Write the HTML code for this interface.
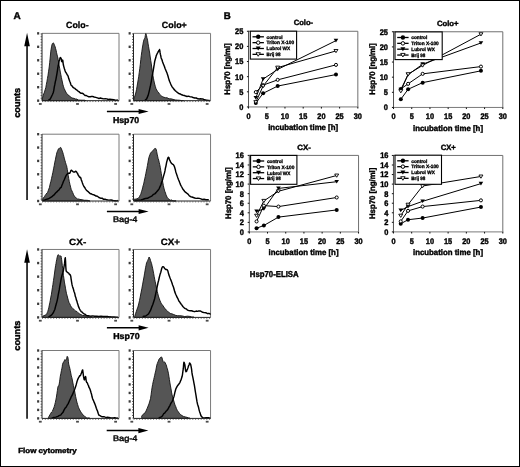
<!DOCTYPE html>
<html><head><meta charset="utf-8"><style>
html,body{margin:0;padding:0;background:#fff;width:520px;height:467px;overflow:hidden;}
body{position:relative;font-family:"Liberation Sans", sans-serif;}
#wrap{position:absolute;left:0;top:0;width:520px;height:467px;filter:grayscale(1);}
#fig{position:absolute;left:0;top:0;font-family:"Liberation Sans", sans-serif;}
#fig text{text-rendering:geometricPrecision;stroke:#000;stroke-width:0.4px;paint-order:stroke;}
</style></head><body><div id="wrap">
<svg width="520" height="467" viewBox="0 0 520 467" id="fig">
<rect x="0" y="0" width="520" height="467" fill="#fff"/>
<text x="13.5" y="19.2" font-size="10" font-weight="bold" text-anchor="start" fill="#000">A</text>
<text x="66" y="27.7" font-size="9" font-weight="bold" text-anchor="start" fill="#000" textLength="22.6" lengthAdjust="spacingAndGlyphs" style="stroke-width:0.3px">Colo-</text>
<text x="161.8" y="27.7" font-size="9" font-weight="bold" text-anchor="start" fill="#000" textLength="25.0" lengthAdjust="spacingAndGlyphs" style="stroke-width:0.3px">Colo+</text>
<text x="69.1" y="244.9" font-size="9" font-weight="bold" text-anchor="start" fill="#000" textLength="17.1" lengthAdjust="spacingAndGlyphs" style="stroke-width:0.3px">CX-</text>
<text x="160.8" y="244.9" font-size="9.2" font-weight="bold" text-anchor="start" fill="#000" textLength="19.2" lengthAdjust="spacingAndGlyphs" style="stroke-width:0.3px">CX+</text>
<path d="M42.0,33.35 H119.0 V100.66" fill="none" stroke="#7a7a7a" stroke-width="1"/>
<path d="M42.50,100.32 L42.46,99.93 L42.41,98.94 L42.50,98.07 L42.80,96.92 L43.23,95.21 L43.70,93.76 L44.20,92.95 L44.75,91.06 L45.30,89.21 L45.83,87.41 L46.37,84.35 L46.90,81.74 L47.45,78.44 L48.00,75.32 L48.50,71.76 L48.93,68.98 L49.32,66.04 L49.70,62.52 L50.07,58.94 L50.44,54.99 L50.80,51.19 L51.16,49.09 L51.52,46.90 L51.90,45.06 L52.33,43.63 L52.77,43.42 L53.20,42.78 L53.57,43.10 L53.93,43.81 L54.30,44.55 L54.71,45.77 L55.14,46.73 L55.60,48.61 L56.08,50.24 L56.59,52.71 L57.10,54.97 L57.63,56.84 L58.16,59.46 L58.70,62.30 L59.23,65.93 L59.77,68.84 L60.30,72.09 L60.84,74.67 L61.37,77.45 L61.90,79.82 L62.37,82.04 L62.84,84.28 L63.40,86.26 L64.13,88.46 L64.97,90.19 L65.80,92.00 L66.57,93.22 L67.35,94.33 L68.20,95.02 L69.15,95.52 L70.17,96.77 L71.30,97.53 L72.54,98.08 L73.88,98.36 L75.30,98.95 L76.77,99.08 L78.31,99.97 L80.00,100.15 L82.13,100.19 L84.40,100.19 L86.00,100.66 L86.00,100.66 L42.50,100.66 Z" fill="#555555" stroke="#111" stroke-width="0.9" stroke-linejoin="round"/>
<path d="M48.50,100.66 L49.09,99.70 L49.94,99.42 L50.80,97.93 L51.62,96.19 L52.46,94.45 L53.20,92.72 L53.79,90.34 L54.30,86.96 L54.80,84.69 L55.34,81.66 L55.87,79.62 L56.40,76.56 L56.91,73.87 L57.42,70.64 L57.90,67.30 L58.36,65.25 L58.79,62.60 L59.20,60.66 L59.59,59.64 L59.96,58.08 L60.30,57.56 L60.59,57.61 L60.84,58.10 L61.10,58.32 L61.37,59.30 L61.63,61.29 L61.90,61.65 L62.17,61.76 L62.44,60.76 L62.70,60.10 L62.91,61.24 L63.10,63.06 L63.40,65.02 L63.87,66.84 L64.43,68.75 L65.00,70.50 L65.53,71.99 L66.07,72.63 L66.60,73.54 L67.13,74.75 L67.67,75.33 L68.20,76.54 L68.74,78.59 L69.27,79.92 L69.80,81.54 L70.27,82.53 L70.74,84.18 L71.30,85.46 L72.00,85.93 L72.81,87.16 L73.70,87.91 L74.71,88.22 L75.81,89.43 L76.90,90.07 L77.94,91.07 L78.96,91.64 L80.00,92.67 L81.06,93.28 L82.14,93.21 L83.20,93.75 L84.24,94.79 L85.26,95.57 L86.30,95.50 L87.36,96.15 L88.44,96.71 L89.50,96.76 L90.48,96.71 L91.44,96.40 L92.60,96.40 L94.08,96.97 L95.74,97.34 L97.40,97.90 L98.97,98.45 L100.54,97.98 L102.10,98.56 L103.66,98.88 L105.23,98.75 L106.80,98.88 L108.34,99.51 L109.89,99.21 L111.60,99.35 L113.82,99.82 L116.21,100.34 L117.90,100.08" fill="none" stroke="#000" stroke-width="1.45" stroke-linejoin="round"/>
<path d="M42.0,33.35 V100.66 H119.0" fill="none" stroke="#222" stroke-width="1"/>
<line x1="41.2" y1="33.35" x2="41.2" y2="100.66" stroke="#333" stroke-width="0.9" stroke-dasharray="1.1 1.7"/>
<rect x="37.1" y="32.15" width="2.1" height="2.4" fill="#3a3a3a"/>
<rect x="37.1" y="45.611999999999995" width="2.1" height="2.4" fill="#3a3a3a"/>
<rect x="37.1" y="59.074" width="2.1" height="2.4" fill="#3a3a3a"/>
<rect x="37.1" y="72.536" width="2.1" height="2.4" fill="#3a3a3a"/>
<rect x="37.1" y="85.998" width="2.1" height="2.4" fill="#3a3a3a"/>
<rect x="37.1" y="99.46" width="2.1" height="2.4" fill="#3a3a3a"/>
<line x1="42.0" y1="101.56" x2="119.0" y2="101.56" stroke="#444" stroke-width="0.8" stroke-dasharray="1.0 1.8"/>
<rect x="38.906" y="103.06" width="2.8" height="1.8" fill="#4a4a4a"/>
<rect x="76.097" y="103.06" width="2.8" height="1.8" fill="#4a4a4a"/>
<rect x="114.21199999999999" y="103.06" width="2.8" height="1.8" fill="#4a4a4a"/>
<path d="M133.5,33.35 H210.55 V100.66" fill="none" stroke="#7a7a7a" stroke-width="1"/>
<path d="M133.90,100.48 L133.84,100.12 L133.78,99.91 L133.90,98.76 L134.31,97.82 L134.91,95.78 L135.50,93.99 L136.03,91.87 L136.57,89.34 L137.10,86.17 L137.63,83.07 L138.17,79.89 L138.70,76.72 L139.24,72.51 L139.77,68.63 L140.30,64.34 L140.80,59.56 L141.30,55.32 L141.80,51.72 L142.33,48.03 L142.86,44.91 L143.40,41.89 L143.96,39.78 L144.53,38.47 L145.00,37.51 L145.31,35.56 L145.54,34.14 L145.80,33.54 L146.14,34.13 L146.51,35.54 L146.90,37.59 L147.28,38.85 L147.67,40.82 L148.10,43.91 L148.60,46.74 L149.15,50.04 L149.70,53.05 L150.23,56.97 L150.77,60.67 L151.30,63.91 L151.84,68.08 L152.37,71.97 L152.90,75.31 L153.40,78.17 L153.90,80.62 L154.40,82.99 L154.90,84.98 L155.40,86.67 L156.00,88.66 L156.71,89.90 L157.52,91.53 L158.40,92.18 L159.35,93.95 L160.37,94.89 L161.50,96.00 L162.71,96.72 L164.02,97.32 L165.50,97.65 L167.19,97.81 L169.05,98.82 L171.00,98.87 L173.04,99.35 L175.17,99.94 L177.30,100.12 L179.63,100.26 L181.97,100.66 L183.60,100.66 L183.60,100.66 L133.90,100.66 Z" fill="#555555" stroke="#111" stroke-width="0.9" stroke-linejoin="round"/>
<path d="M145.00,100.47 L145.63,99.68 L146.52,99.07 L147.40,97.18 L148.17,95.33 L148.93,92.41 L149.70,89.16 L150.52,85.44 L151.36,81.12 L152.10,76.44 L152.70,73.50 L153.20,70.54 L153.70,67.54 L154.20,64.70 L154.70,61.35 L155.20,59.50 L155.73,57.83 L156.26,55.68 L156.80,54.52 L157.35,53.28 L157.90,52.41 L158.40,51.44 L158.81,50.59 L159.17,50.12 L159.50,49.50 L159.81,50.70 L160.09,52.63 L160.40,54.40 L160.73,55.69 L161.09,57.65 L161.50,58.88 L161.99,59.77 L162.53,61.70 L163.10,63.15 L163.70,64.72 L164.34,66.33 L165.00,68.22 L165.71,69.98 L166.44,71.69 L167.10,73.35 L167.64,75.09 L168.11,76.45 L168.60,78.34 L169.13,80.13 L169.66,81.53 L170.20,82.76 L170.70,84.00 L171.21,85.12 L171.80,86.28 L172.51,87.49 L173.32,88.24 L174.20,89.64 L175.18,90.59 L176.23,91.53 L177.30,92.40 L178.33,93.14 L179.38,93.78 L180.50,94.04 L181.74,94.82 L183.07,95.19 L184.40,95.50 L185.70,96.06 L187.01,96.43 L188.40,96.16 L189.91,96.66 L191.51,96.87 L193.10,97.50 L194.69,97.96 L196.29,98.00 L197.80,98.82 L199.19,98.98 L200.50,98.73 L201.80,99.07 L203.10,99.03 L204.40,99.82 L205.70,99.93 L207.17,100.34 L208.66,100.48 L209.70,100.53" fill="none" stroke="#000" stroke-width="1.45" stroke-linejoin="round"/>
<path d="M133.5,33.35 V100.66 H210.55" fill="none" stroke="#222" stroke-width="1"/>
<line x1="132.7" y1="33.35" x2="132.7" y2="100.66" stroke="#333" stroke-width="0.9" stroke-dasharray="1.1 1.7"/>
<rect x="128.6" y="32.15" width="2.1" height="2.4" fill="#3a3a3a"/>
<rect x="128.6" y="45.611999999999995" width="2.1" height="2.4" fill="#3a3a3a"/>
<rect x="128.6" y="59.074" width="2.1" height="2.4" fill="#3a3a3a"/>
<rect x="128.6" y="72.536" width="2.1" height="2.4" fill="#3a3a3a"/>
<rect x="128.6" y="85.998" width="2.1" height="2.4" fill="#3a3a3a"/>
<rect x="128.6" y="99.46" width="2.1" height="2.4" fill="#3a3a3a"/>
<line x1="133.5" y1="101.56" x2="210.55" y2="101.56" stroke="#444" stroke-width="0.8" stroke-dasharray="1.0 1.8"/>
<rect x="130.4049" y="103.06" width="2.8" height="1.8" fill="#4a4a4a"/>
<rect x="167.62005" y="103.06" width="2.8" height="1.8" fill="#4a4a4a"/>
<rect x="205.7598" y="103.06" width="2.8" height="1.8" fill="#4a4a4a"/>
<path d="M42.0,134.2 H119.0 V201.0" fill="none" stroke="#7a7a7a" stroke-width="1"/>
<path d="M42.50,201.00 L42.43,200.67 L42.35,199.94 L42.50,199.66 L43.00,198.36 L43.73,197.36 L44.50,196.69 L45.29,195.15 L46.12,194.14 L46.90,193.02 L47.57,192.47 L48.18,190.80 L48.80,189.07 L49.46,187.36 L50.12,184.13 L50.80,181.74 L51.50,178.57 L52.21,175.46 L52.90,172.32 L53.56,168.83 L54.20,165.75 L54.80,162.18 L55.36,159.85 L55.89,157.02 L56.40,154.85 L56.90,152.48 L57.40,151.32 L57.90,150.20 L58.44,148.82 L59.00,148.60 L59.50,148.44 L59.90,148.20 L60.24,147.43 L60.60,147.38 L61.01,147.87 L61.44,148.91 L61.90,150.08 L62.38,151.18 L62.89,152.80 L63.40,154.63 L63.93,156.64 L64.46,158.91 L65.00,160.71 L65.55,162.63 L66.10,164.41 L66.60,165.64 L66.99,167.74 L67.31,169.37 L67.70,172.13 L68.18,175.17 L68.72,178.46 L69.30,181.51 L69.93,184.36 L70.61,187.16 L71.30,189.68 L71.97,190.99 L72.65,192.43 L73.40,194.27 L74.21,195.84 L75.09,196.91 L76.10,197.96 L77.22,198.89 L78.48,198.99 L80.00,199.44 L82.02,199.73 L84.30,200.25 L86.30,200.27 L87.86,200.42 L89.14,200.92 L90.00,201.00 L90.00,201.0 L42.50,201.0 Z" fill="#555555" stroke="#111" stroke-width="0.9" stroke-linejoin="round"/>
<path d="M42.90,200.44 L44.18,200.29 L45.99,199.38 L47.70,199.08 L49.09,198.38 L50.39,197.65 L51.60,196.97 L52.72,195.90 L53.77,195.18 L54.80,194.01 L55.84,192.80 L56.86,191.91 L57.90,190.76 L58.99,189.93 L60.10,188.16 L61.10,187.39 L61.94,185.24 L62.68,183.42 L63.40,181.47 L64.12,180.05 L64.82,178.41 L65.50,176.75 L66.13,175.44 L66.74,174.58 L67.40,173.89 L68.20,173.14 L69.05,173.29 L69.80,173.17 L70.36,171.97 L70.83,170.81 L71.30,170.19 L71.83,170.59 L72.36,170.93 L72.90,171.57 L73.43,171.91 L73.97,171.88 L74.50,172.05 L75.04,171.77 L75.57,171.14 L76.10,171.36 L76.60,172.00 L77.10,172.94 L77.60,173.40 L78.13,174.93 L78.66,175.60 L79.20,176.64 L79.73,177.41 L80.27,177.26 L80.80,177.97 L81.31,179.90 L81.81,181.14 L82.40,182.89 L83.11,184.72 L83.90,186.46 L84.70,187.41 L85.46,188.85 L86.24,189.93 L87.10,190.89 L88.11,191.55 L89.21,192.65 L90.30,193.66 L91.31,193.81 L92.30,194.43 L93.40,194.60 L94.64,195.24 L95.98,196.07 L97.40,196.19 L98.91,197.48 L100.51,198.21 L102.10,198.18 L103.61,199.30 L105.11,199.19 L106.80,199.82 L108.84,200.11 L111.05,200.02 L113.10,200.54 L114.99,200.67 L116.71,200.89 L117.90,200.51" fill="none" stroke="#000" stroke-width="1.45" stroke-linejoin="round"/>
<path d="M42.0,134.2 V201.0 H119.0" fill="none" stroke="#222" stroke-width="1"/>
<line x1="41.2" y1="134.2" x2="41.2" y2="201.0" stroke="#333" stroke-width="0.9" stroke-dasharray="1.1 1.7"/>
<rect x="37.1" y="133.0" width="2.1" height="2.4" fill="#3a3a3a"/>
<rect x="37.1" y="146.36" width="2.1" height="2.4" fill="#3a3a3a"/>
<rect x="37.1" y="159.72" width="2.1" height="2.4" fill="#3a3a3a"/>
<rect x="37.1" y="173.08" width="2.1" height="2.4" fill="#3a3a3a"/>
<rect x="37.1" y="186.44" width="2.1" height="2.4" fill="#3a3a3a"/>
<rect x="37.1" y="199.8" width="2.1" height="2.4" fill="#3a3a3a"/>
<line x1="42.0" y1="201.9" x2="119.0" y2="201.9" stroke="#444" stroke-width="0.8" stroke-dasharray="1.0 1.8"/>
<rect x="38.906" y="203.4" width="2.8" height="1.8" fill="#4a4a4a"/>
<rect x="76.097" y="203.4" width="2.8" height="1.8" fill="#4a4a4a"/>
<rect x="114.21199999999999" y="203.4" width="2.8" height="1.8" fill="#4a4a4a"/>
<path d="M133.5,134.2 H210.55 V201.0" fill="none" stroke="#7a7a7a" stroke-width="1"/>
<path d="M133.90,201.00 L133.78,200.87 L133.66,200.17 L133.90,199.63 L134.76,199.08 L135.97,199.15 L137.10,198.70 L137.99,198.33 L138.80,197.51 L139.50,196.55 L140.06,195.36 L140.53,194.67 L141.00,193.39 L141.53,191.44 L142.06,190.05 L142.60,187.91 L143.13,185.55 L143.67,184.05 L144.20,181.25 L144.73,178.87 L145.27,176.45 L145.80,173.67 L146.34,171.01 L146.87,168.44 L147.40,165.67 L147.90,162.82 L148.40,159.97 L148.90,157.50 L149.43,156.03 L149.96,154.50 L150.50,153.13 L151.03,152.50 L151.57,151.82 L152.10,151.34 L152.64,150.88 L153.17,150.69 L153.70,149.58 L154.22,149.28 L154.73,148.50 L155.20,148.59 L155.59,148.40 L155.93,148.82 L156.30,149.83 L156.71,151.67 L157.14,154.11 L157.60,156.10 L158.11,158.48 L158.66,160.01 L159.20,162.34 L159.74,164.68 L160.27,167.32 L160.80,170.60 L161.30,173.67 L161.80,176.57 L162.30,179.68 L162.83,182.68 L163.36,185.57 L163.90,188.02 L164.43,190.04 L164.97,191.74 L165.50,193.05 L166.01,194.70 L166.51,195.86 L167.10,197.22 L167.78,198.22 L168.54,198.77 L169.40,199.43 L170.39,200.19 L171.49,199.89 L172.60,200.61 L173.84,200.88 L175.11,201.00 L176.00,200.82 L176.00,201.0 L133.90,201.0 Z" fill="#555555" stroke="#111" stroke-width="0.9" stroke-linejoin="round"/>
<path d="M134.70,200.64 L136.33,200.43 L138.66,200.12 L141.00,199.98 L143.19,199.29 L145.39,198.45 L147.40,198.29 L149.12,197.31 L150.66,196.64 L152.10,195.88 L153.49,194.33 L154.78,193.87 L156.00,192.63 L157.15,191.31 L158.23,190.07 L159.20,188.57 L160.05,186.64 L160.80,185.01 L161.50,182.63 L162.17,180.95 L162.80,178.94 L163.40,176.66 L163.97,174.65 L164.50,172.87 L165.00,170.71 L165.46,167.95 L165.89,166.32 L166.30,164.20 L166.71,161.97 L167.11,160.62 L167.50,159.19 L167.87,157.88 L168.24,157.33 L168.60,157.34 L168.96,157.54 L169.32,159.29 L169.70,160.36 L170.11,160.77 L170.54,162.11 L171.00,162.58 L171.51,163.43 L172.06,163.77 L172.60,164.29 L173.14,164.36 L173.67,165.12 L174.20,166.05 L174.70,167.53 L175.20,169.17 L175.70,171.41 L176.21,173.05 L176.74,174.61 L177.30,176.33 L177.90,178.02 L178.54,179.69 L179.20,181.23 L179.88,183.10 L180.58,184.86 L181.30,186.23 L182.02,187.52 L182.76,189.00 L183.60,189.94 L184.57,191.19 L185.65,192.46 L186.80,193.22 L188.04,194.17 L189.37,195.88 L190.70,196.68 L192.00,197.05 L193.31,197.51 L194.70,198.02 L196.21,198.40 L197.81,198.34 L199.40,198.40 L200.96,198.84 L202.53,199.58 L204.10,199.31 L205.87,199.78 L207.65,199.74 L208.90,199.87" fill="none" stroke="#000" stroke-width="1.45" stroke-linejoin="round"/>
<path d="M133.5,134.2 V201.0 H210.55" fill="none" stroke="#222" stroke-width="1"/>
<line x1="132.7" y1="134.2" x2="132.7" y2="201.0" stroke="#333" stroke-width="0.9" stroke-dasharray="1.1 1.7"/>
<rect x="128.6" y="133.0" width="2.1" height="2.4" fill="#3a3a3a"/>
<rect x="128.6" y="146.36" width="2.1" height="2.4" fill="#3a3a3a"/>
<rect x="128.6" y="159.72" width="2.1" height="2.4" fill="#3a3a3a"/>
<rect x="128.6" y="173.08" width="2.1" height="2.4" fill="#3a3a3a"/>
<rect x="128.6" y="186.44" width="2.1" height="2.4" fill="#3a3a3a"/>
<rect x="128.6" y="199.8" width="2.1" height="2.4" fill="#3a3a3a"/>
<line x1="133.5" y1="201.9" x2="210.55" y2="201.9" stroke="#444" stroke-width="0.8" stroke-dasharray="1.0 1.8"/>
<rect x="130.4049" y="203.4" width="2.8" height="1.8" fill="#4a4a4a"/>
<rect x="167.62005" y="203.4" width="2.8" height="1.8" fill="#4a4a4a"/>
<rect x="205.7598" y="203.4" width="2.8" height="1.8" fill="#4a4a4a"/>
<path d="M42.0,249.46 H119.0 V317.4" fill="none" stroke="#7a7a7a" stroke-width="1"/>
<path d="M42.90,316.97 L42.78,316.95 L42.66,316.52 L42.90,316.07 L43.79,315.71 L45.03,315.24 L46.10,314.79 L46.75,313.69 L47.23,312.69 L47.70,311.66 L48.24,309.83 L48.77,307.88 L49.30,305.09 L49.80,302.88 L50.30,300.24 L50.80,297.17 L51.33,294.83 L51.86,291.14 L52.40,287.72 L52.93,284.43 L53.47,280.49 L54.00,277.09 L54.55,273.02 L55.10,268.98 L55.60,265.59 L56.01,263.51 L56.37,261.19 L56.70,259.80 L57.01,257.98 L57.29,256.98 L57.60,255.56 L57.95,254.94 L58.33,254.71 L58.70,255.12 L59.07,255.43 L59.44,255.95 L59.80,256.22 L60.15,256.36 L60.49,256.04 L60.80,255.76 L61.07,256.10 L61.32,257.38 L61.60,259.31 L61.94,262.12 L62.31,265.41 L62.70,268.79 L63.08,272.35 L63.47,275.64 L63.90,278.29 L64.40,282.05 L64.95,284.93 L65.50,288.21 L66.02,291.10 L66.54,293.75 L67.10,295.57 L67.70,298.04 L68.33,300.35 L69.00,302.51 L69.73,303.68 L70.51,305.42 L71.30,307.14 L72.06,307.60 L72.84,308.51 L73.70,309.18 L74.71,310.23 L75.81,311.21 L76.90,311.47 L77.91,312.67 L78.90,313.45 L80.00,314.23 L81.27,314.65 L82.64,315.45 L84.00,315.50 L85.30,315.87 L86.59,315.97 L87.90,316.60 L89.40,316.68 L90.93,316.83 L92.00,316.97 L92.00,317.4 L42.90,317.4 Z" fill="#555555" stroke="#111" stroke-width="0.9" stroke-linejoin="round"/>
<path d="M48.50,317.18 L49.57,316.37 L51.07,315.41 L52.40,313.91 L53.31,312.70 L54.06,310.95 L54.80,309.47 L55.60,306.29 L56.39,303.56 L57.10,300.81 L57.69,298.10 L58.19,295.09 L58.70,292.49 L59.23,289.90 L59.77,286.49 L60.30,283.60 L60.84,280.73 L61.37,277.70 L61.90,275.72 L62.42,273.90 L62.93,272.25 L63.40,270.60 L63.84,267.85 L64.25,265.24 L64.60,263.16 L64.87,260.01 L65.08,258.24 L65.30,257.69 L65.54,261.02 L65.79,266.77 L66.10,270.49 L66.49,271.66 L66.93,271.83 L67.40,272.32 L67.91,272.79 L68.46,272.87 L69.00,273.58 L69.53,274.59 L70.06,274.41 L70.50,275.45 L70.81,276.61 L71.04,278.52 L71.30,280.18 L71.63,282.37 L71.99,284.38 L72.40,286.15 L72.91,287.86 L73.47,289.33 L74.00,291.46 L74.44,292.43 L74.86,293.90 L75.30,296.27 L75.81,297.46 L76.36,299.91 L76.90,301.07 L77.39,303.02 L77.87,304.39 L78.40,306.36 L78.97,307.61 L79.58,308.97 L80.30,310.31 L81.19,311.54 L82.18,312.17 L83.20,313.28 L84.10,313.91 L85.02,314.27 L86.30,315.37 L88.16,315.60 L90.38,316.10 L92.60,315.86 L94.70,316.29 L96.80,316.30 L98.90,316.58 L101.00,316.13 L103.09,316.41 L105.20,316.59 L107.33,316.35 L109.47,316.84 L111.60,317.09 L113.94,316.95 L116.27,317.24 L117.90,317.28" fill="none" stroke="#000" stroke-width="1.45" stroke-linejoin="round"/>
<path d="M42.0,249.46 V317.4 H119.0" fill="none" stroke="#222" stroke-width="1"/>
<line x1="41.2" y1="249.46" x2="41.2" y2="317.4" stroke="#333" stroke-width="0.9" stroke-dasharray="1.1 1.7"/>
<rect x="37.1" y="248.26000000000002" width="2.1" height="2.4" fill="#3a3a3a"/>
<rect x="37.1" y="261.848" width="2.1" height="2.4" fill="#3a3a3a"/>
<rect x="37.1" y="275.436" width="2.1" height="2.4" fill="#3a3a3a"/>
<rect x="37.1" y="289.024" width="2.1" height="2.4" fill="#3a3a3a"/>
<rect x="37.1" y="302.612" width="2.1" height="2.4" fill="#3a3a3a"/>
<rect x="37.1" y="316.2" width="2.1" height="2.4" fill="#3a3a3a"/>
<line x1="42.0" y1="318.29999999999995" x2="119.0" y2="318.29999999999995" stroke="#444" stroke-width="0.8" stroke-dasharray="1.0 1.8"/>
<rect x="38.906" y="319.79999999999995" width="2.8" height="1.8" fill="#4a4a4a"/>
<rect x="76.097" y="319.79999999999995" width="2.8" height="1.8" fill="#4a4a4a"/>
<rect x="114.21199999999999" y="319.79999999999995" width="2.8" height="1.8" fill="#4a4a4a"/>
<path d="M133.5,249.46 H210.55 V317.4" fill="none" stroke="#7a7a7a" stroke-width="1"/>
<path d="M134.70,317.00 L134.64,317.03 L134.58,317.33 L134.70,316.28 L135.09,315.19 L135.65,313.36 L136.30,311.50 L137.04,309.19 L137.88,307.09 L138.70,303.96 L139.47,300.65 L140.23,296.97 L141.00,292.78 L141.82,288.79 L142.66,284.14 L143.40,280.04 L143.99,276.99 L144.50,273.89 L145.00,271.01 L145.54,267.77 L146.07,265.22 L146.60,262.73 L147.12,261.70 L147.63,260.72 L148.10,259.45 L148.49,258.87 L148.83,257.41 L149.20,257.02 L149.61,258.00 L150.04,258.84 L150.50,260.41 L151.01,262.06 L151.56,263.48 L152.10,266.07 L152.64,268.20 L153.17,271.03 L153.70,273.69 L154.20,276.60 L154.70,279.24 L155.20,281.55 L155.73,284.11 L156.26,286.94 L156.80,289.54 L157.30,291.52 L157.81,293.62 L158.40,296.08 L159.14,298.23 L159.98,300.61 L160.80,302.54 L161.54,303.94 L162.27,304.79 L163.10,305.86 L164.07,307.33 L165.15,308.80 L166.30,310.12 L167.49,311.27 L168.76,312.19 L170.20,313.45 L171.88,313.81 L173.74,314.55 L175.70,315.37 L177.71,315.73 L179.83,315.69 L182.10,315.92 L184.73,316.55 L187.52,316.18 L189.90,316.44 L191.69,316.91 L193.07,317.10 L194.00,316.97 L194.00,317.4 L134.70,317.4 Z" fill="#555555" stroke="#111" stroke-width="0.9" stroke-linejoin="round"/>
<path d="M142.60,316.64 L143.91,316.29 L145.75,316.02 L147.40,314.77 L148.56,313.92 L149.52,312.22 L150.50,310.48 L151.59,307.39 L152.70,304.82 L153.70,301.81 L154.56,299.03 L155.32,295.67 L156.00,292.34 L156.59,289.98 L157.09,287.06 L157.60,284.75 L158.13,282.22 L158.67,280.27 L159.20,277.73 L159.74,275.63 L160.27,273.64 L160.80,272.14 L161.30,270.23 L161.80,268.20 L162.30,267.03 L162.83,266.72 L163.36,266.74 L163.90,267.21 L164.43,268.21 L164.97,268.83 L165.50,269.11 L166.05,269.64 L166.60,269.59 L167.10,269.72 L167.50,270.23 L167.84,270.87 L168.20,272.31 L168.58,273.73 L168.97,275.14 L169.40,276.17 L169.90,277.61 L170.45,279.08 L171.00,280.35 L171.53,281.72 L172.07,283.21 L172.60,284.91 L173.14,286.21 L173.67,287.78 L174.20,289.75 L174.70,291.62 L175.20,292.88 L175.70,294.23 L176.20,295.30 L176.70,296.34 L177.30,297.74 L178.04,298.97 L178.87,301.06 L179.70,301.92 L180.50,303.26 L181.31,304.47 L182.10,305.33 L182.84,306.51 L183.57,307.22 L184.40,308.05 L185.37,308.64 L186.45,309.04 L187.60,310.16 L188.82,310.54 L190.11,310.70 L191.50,310.72 L193.03,311.29 L194.66,311.65 L196.20,311.08 L197.59,311.36 L198.90,310.85 L200.20,310.91 L201.47,311.61 L202.74,312.29 L204.10,312.61 L205.76,312.69 L207.51,313.66 L208.90,313.34 L209.70,313.65 L210.13,314.04 L210.40,313.65" fill="none" stroke="#000" stroke-width="1.45" stroke-linejoin="round"/>
<path d="M133.5,249.46 V317.4 H210.55" fill="none" stroke="#222" stroke-width="1"/>
<line x1="132.7" y1="249.46" x2="132.7" y2="317.4" stroke="#333" stroke-width="0.9" stroke-dasharray="1.1 1.7"/>
<rect x="128.6" y="248.26000000000002" width="2.1" height="2.4" fill="#3a3a3a"/>
<rect x="128.6" y="261.848" width="2.1" height="2.4" fill="#3a3a3a"/>
<rect x="128.6" y="275.436" width="2.1" height="2.4" fill="#3a3a3a"/>
<rect x="128.6" y="289.024" width="2.1" height="2.4" fill="#3a3a3a"/>
<rect x="128.6" y="302.612" width="2.1" height="2.4" fill="#3a3a3a"/>
<rect x="128.6" y="316.2" width="2.1" height="2.4" fill="#3a3a3a"/>
<line x1="133.5" y1="318.29999999999995" x2="210.55" y2="318.29999999999995" stroke="#444" stroke-width="0.8" stroke-dasharray="1.0 1.8"/>
<rect x="130.4049" y="319.79999999999995" width="2.8" height="1.8" fill="#4a4a4a"/>
<rect x="167.62005" y="319.79999999999995" width="2.8" height="1.8" fill="#4a4a4a"/>
<rect x="205.7598" y="319.79999999999995" width="2.8" height="1.8" fill="#4a4a4a"/>
<path d="M42.0,350.5 H119.0 V418.4" fill="none" stroke="#7a7a7a" stroke-width="1"/>
<path d="M48.50,418.14 L48.41,418.40 L48.33,418.27 L48.50,417.27 L49.09,416.25 L49.94,414.77 L50.80,413.24 L51.62,412.03 L52.46,411.23 L53.20,409.21 L53.79,407.91 L54.30,406.42 L54.80,404.51 L55.34,402.48 L55.87,399.94 L56.40,397.14 L56.91,393.71 L57.42,390.37 L57.90,387.05 L58.36,385.92 L58.79,385.77 L59.20,384.00 L59.56,381.86 L59.90,379.20 L60.30,376.24 L60.83,373.68 L61.41,370.58 L61.90,368.32 L62.21,366.93 L62.43,364.83 L62.70,364.08 L63.07,362.57 L63.49,362.40 L63.90,361.52 L64.27,360.82 L64.64,359.88 L65.00,359.49 L65.37,360.24 L65.74,360.37 L66.10,360.38 L66.45,359.70 L66.79,358.09 L67.10,356.38 L67.38,356.74 L67.64,356.68 L67.90,357.42 L68.16,358.98 L68.41,361.54 L68.70,364.14 L69.03,365.24 L69.39,366.56 L69.80,368.25 L70.27,370.43 L70.78,373.04 L71.30,375.89 L71.83,377.64 L72.36,380.06 L72.90,383.01 L73.43,385.62 L73.97,388.27 L74.50,390.42 L75.04,393.19 L75.57,396.30 L76.10,398.49 L76.60,400.95 L77.10,402.81 L77.60,404.46 L78.13,406.20 L78.66,407.71 L79.20,408.90 L79.70,409.87 L80.21,410.84 L80.80,411.93 L81.51,412.93 L82.32,414.05 L83.20,415.23 L84.16,415.70 L85.20,416.80 L86.30,417.70 L87.63,418.09 L89.02,417.90 L90.00,418.40 L90.00,418.4 L48.50,418.4 Z" fill="#555555" stroke="#111" stroke-width="0.9" stroke-linejoin="round"/>
<path d="M51.60,418.40 L53.32,417.58 L55.74,417.12 L57.90,416.36 L59.44,415.38 L60.72,415.10 L61.90,413.43 L63.00,412.35 L63.99,410.11 L65.00,408.31 L66.09,407.18 L67.20,405.24 L68.20,403.59 L69.03,401.73 L69.76,400.06 L70.50,398.71 L71.32,396.55 L72.16,395.27 L72.90,393.65 L73.49,392.08 L74.00,391.21 L74.50,389.66 L75.04,388.33 L75.57,386.66 L76.10,384.95 L76.60,383.09 L77.10,381.30 L77.60,379.88 L78.13,378.57 L78.66,377.52 L79.20,376.67 L79.75,375.64 L80.30,375.77 L80.80,374.62 L81.21,373.52 L81.57,372.68 L81.90,371.89 L82.19,370.64 L82.44,370.11 L82.70,369.93 L82.96,372.11 L83.23,374.21 L83.50,376.38 L83.79,377.93 L84.08,379.34 L84.40,379.89 L84.76,378.66 L85.15,377.04 L85.50,376.49 L85.76,377.10 L85.99,379.30 L86.30,381.38 L86.77,382.47 L87.34,382.88 L87.90,384.58 L88.44,385.45 L88.97,387.25 L89.50,388.09 L90.00,389.21 L90.50,390.73 L91.00,392.51 L91.53,394.16 L92.06,396.79 L92.60,398.67 L93.13,399.86 L93.67,401.02 L94.20,402.40 L94.73,403.62 L95.27,404.91 L95.80,406.52 L96.34,408.24 L96.87,409.63 L97.40,410.82 L97.87,412.32 L98.34,413.80 L98.90,415.09 L99.58,415.46 L100.36,415.90 L101.30,416.46 L102.49,416.68 L103.84,416.61 L105.20,417.13 L106.53,417.55 L107.87,417.33 L109.20,417.59 L110.47,417.76 L111.74,417.86 L113.10,418.03 L114.81,417.82 L116.62,418.21 L117.90,417.90" fill="none" stroke="#000" stroke-width="1.45" stroke-linejoin="round"/>
<path d="M42.0,350.5 V418.4 H119.0" fill="none" stroke="#222" stroke-width="1"/>
<line x1="41.2" y1="350.5" x2="41.2" y2="418.4" stroke="#333" stroke-width="0.9" stroke-dasharray="1.1 1.7"/>
<rect x="37.1" y="349.3" width="2.1" height="2.4" fill="#3a3a3a"/>
<rect x="37.1" y="357.7875" width="2.1" height="2.4" fill="#3a3a3a"/>
<rect x="37.1" y="366.27500000000003" width="2.1" height="2.4" fill="#3a3a3a"/>
<rect x="37.1" y="374.7625" width="2.1" height="2.4" fill="#3a3a3a"/>
<rect x="37.1" y="383.25" width="2.1" height="2.4" fill="#3a3a3a"/>
<rect x="37.1" y="391.7375" width="2.1" height="2.4" fill="#3a3a3a"/>
<rect x="37.1" y="400.22499999999997" width="2.1" height="2.4" fill="#3a3a3a"/>
<rect x="37.1" y="408.7125" width="2.1" height="2.4" fill="#3a3a3a"/>
<rect x="37.1" y="417.2" width="2.1" height="2.4" fill="#3a3a3a"/>
<line x1="42.0" y1="419.29999999999995" x2="119.0" y2="419.29999999999995" stroke="#444" stroke-width="0.8" stroke-dasharray="1.0 1.8"/>
<rect x="38.906" y="420.79999999999995" width="2.8" height="1.8" fill="#4a4a4a"/>
<rect x="76.097" y="420.79999999999995" width="2.8" height="1.8" fill="#4a4a4a"/>
<rect x="114.21199999999999" y="420.79999999999995" width="2.8" height="1.8" fill="#4a4a4a"/>
<path d="M133.5,350.5 H210.55 V418.4" fill="none" stroke="#7a7a7a" stroke-width="1"/>
<path d="M141.80,418.40 L141.68,417.59 L141.56,416.75 L141.80,416.07 L142.63,414.78 L143.82,413.78 L145.00,412.93 L146.07,410.97 L147.12,408.45 L148.10,406.07 L148.98,403.90 L149.79,401.08 L150.50,398.73 L151.09,394.70 L151.60,390.82 L152.10,387.32 L152.64,384.48 L153.17,381.85 L153.70,379.59 L154.20,377.45 L154.70,375.31 L155.20,372.92 L155.73,370.94 L156.26,367.97 L156.80,365.11 L157.33,363.44 L157.87,362.08 L158.40,360.94 L158.94,359.32 L159.47,358.58 L160.00,358.29 L160.50,357.43 L161.00,357.02 L161.50,356.93 L162.03,357.83 L162.56,359.83 L163.10,361.46 L163.63,362.14 L164.17,361.69 L164.70,362.12 L165.23,362.72 L165.77,364.17 L166.30,365.07 L166.84,367.25 L167.37,368.77 L167.90,370.95 L168.40,373.21 L168.90,376.26 L169.40,379.48 L169.93,382.91 L170.46,385.95 L171.00,388.85 L171.50,392.09 L172.01,394.44 L172.60,396.92 L173.34,399.41 L174.18,402.20 L175.00,405.08 L175.74,406.61 L176.47,408.70 L177.30,410.38 L178.24,411.65 L179.29,413.22 L180.50,414.49 L181.96,415.56 L183.58,416.47 L185.20,416.89 L186.94,417.33 L188.68,417.93 L189.90,418.07 L189.90,418.4 L141.80,418.4 Z" fill="#555555" stroke="#111" stroke-width="0.9" stroke-linejoin="round"/>
<path d="M158.40,417.96 L159.20,418.17 L160.34,417.14 L161.50,416.86 L162.56,415.79 L163.63,413.73 L164.70,413.03 L165.77,411.61 L166.84,410.54 L167.90,409.25 L168.97,407.20 L170.02,405.30 L171.00,403.11 L171.88,401.86 L172.69,400.39 L173.40,398.15 L174.00,396.38 L174.50,394.16 L175.00,391.94 L175.47,390.23 L175.94,388.63 L176.50,387.56 L177.26,386.12 L178.13,384.97 L178.90,384.08 L179.49,383.25 L180.00,382.33 L180.50,380.90 L181.05,379.92 L181.60,378.03 L182.10,376.54 L182.55,374.03 L182.96,370.87 L183.30,368.70 L183.53,365.85 L183.69,363.57 L183.90,362.28 L184.20,362.55 L184.54,363.71 L184.90,365.04 L185.24,367.85 L185.59,370.48 L186.00,371.69 L186.50,371.43 L187.06,369.79 L187.60,368.82 L188.13,367.32 L188.66,365.53 L189.10,364.85 L189.40,364.08 L189.62,362.92 L189.90,363.40 L190.30,363.73 L190.76,364.84 L191.20,367.07 L191.56,369.11 L191.90,372.20 L192.30,374.87 L192.80,377.06 L193.35,379.97 L193.90,382.98 L194.44,385.73 L194.97,389.01 L195.50,392.49 L196.00,395.41 L196.50,398.69 L197.00,401.67 L197.53,404.21 L198.06,405.73 L198.60,407.57 L199.13,410.12 L199.67,411.89 L200.20,413.34 L200.71,415.11 L201.21,416.12 L201.80,416.63 L202.37,417.53 L203.01,417.72 L204.10,417.90 L206.14,417.76 L208.62,417.70 L210.40,418.34" fill="none" stroke="#000" stroke-width="1.45" stroke-linejoin="round"/>
<path d="M133.5,350.5 V418.4 H210.55" fill="none" stroke="#222" stroke-width="1"/>
<line x1="132.7" y1="350.5" x2="132.7" y2="418.4" stroke="#333" stroke-width="0.9" stroke-dasharray="1.1 1.7"/>
<rect x="128.6" y="349.3" width="2.1" height="2.4" fill="#3a3a3a"/>
<rect x="128.6" y="357.7875" width="2.1" height="2.4" fill="#3a3a3a"/>
<rect x="128.6" y="366.27500000000003" width="2.1" height="2.4" fill="#3a3a3a"/>
<rect x="128.6" y="374.7625" width="2.1" height="2.4" fill="#3a3a3a"/>
<rect x="128.6" y="383.25" width="2.1" height="2.4" fill="#3a3a3a"/>
<rect x="128.6" y="391.7375" width="2.1" height="2.4" fill="#3a3a3a"/>
<rect x="128.6" y="400.22499999999997" width="2.1" height="2.4" fill="#3a3a3a"/>
<rect x="128.6" y="408.7125" width="2.1" height="2.4" fill="#3a3a3a"/>
<rect x="128.6" y="417.2" width="2.1" height="2.4" fill="#3a3a3a"/>
<line x1="133.5" y1="419.29999999999995" x2="210.55" y2="419.29999999999995" stroke="#444" stroke-width="0.8" stroke-dasharray="1.0 1.8"/>
<rect x="130.4049" y="420.79999999999995" width="2.8" height="1.8" fill="#4a4a4a"/>
<rect x="167.62005" y="420.79999999999995" width="2.8" height="1.8" fill="#4a4a4a"/>
<rect x="205.7598" y="420.79999999999995" width="2.8" height="1.8" fill="#4a4a4a"/>
<line x1="27.05" y1="42.8" x2="27.05" y2="199.9" stroke="#1a1a1a" stroke-width="1.7"/>
<path d="M24.25,46.199999999999996 L27.05,32.8 L29.85,46.199999999999996 Z" fill="#000"/>
<line x1="27.05" y1="259.3" x2="27.05" y2="418.7" stroke="#1a1a1a" stroke-width="1.7"/>
<path d="M24.25,262.7 L27.05,249.3 L29.85,262.7 Z" fill="#000"/>
<text x="0" y="0" font-size="9" font-weight="bold" text-anchor="middle" textLength="30" lengthAdjust="spacingAndGlyphs" transform="translate(20.4,102.8) rotate(-90)">counts</text>
<text x="0" y="0" font-size="9" font-weight="bold" text-anchor="middle" textLength="30" lengthAdjust="spacingAndGlyphs" transform="translate(20.4,335.7) rotate(-90)">counts</text>
<line x1="106.9" y1="111.5" x2="140.6" y2="111.5" stroke="#000" stroke-width="1.5"/>
<path d="M138.6,108.9 L148.6,111.5 L138.6,114.1 Z" fill="#000"/>
<text x="112.9" y="122.8" font-size="8.6" font-weight="bold" text-anchor="start" fill="#000" textLength="26.3" lengthAdjust="spacingAndGlyphs">Hsp70</text>
<line x1="106.9" y1="211.5" x2="140.6" y2="211.5" stroke="#000" stroke-width="1.5"/>
<path d="M138.6,208.9 L148.6,211.5 L138.6,214.1 Z" fill="#000"/>
<text x="112.9" y="221.8" font-size="8.0" font-weight="normal" text-anchor="start" fill="#000" textLength="24.6" lengthAdjust="spacingAndGlyphs">Bag-4</text>
<line x1="106.9" y1="327.8" x2="140.6" y2="327.8" stroke="#000" stroke-width="1.5"/>
<path d="M138.6,325.2 L148.6,327.8 L138.6,330.40000000000003 Z" fill="#000"/>
<text x="113.2" y="339.4" font-size="8.6" font-weight="bold" text-anchor="start" fill="#000" textLength="26.5" lengthAdjust="spacingAndGlyphs">Hsp70</text>
<line x1="106.7" y1="430.6" x2="140.4" y2="430.6" stroke="#000" stroke-width="1.5"/>
<path d="M138.4,428.0 L148.4,430.6 L138.4,433.20000000000005 Z" fill="#000"/>
<text x="112.9" y="441.4" font-size="8.0" font-weight="normal" text-anchor="start" fill="#000" textLength="24.6" lengthAdjust="spacingAndGlyphs">Bag-4</text>
<text x="18.2" y="452.6" font-size="7.2" font-weight="bold" text-anchor="start" fill="#000" textLength="58.6" lengthAdjust="spacingAndGlyphs">Flow cytometry</text>
<text x="223.8" y="19.4" font-size="9.7" font-weight="bold" text-anchor="start" fill="#000">B</text>
<path d="M248.53,31.27 H357.84 V106.94" fill="none" stroke="#707070" stroke-width="1"/>
<line x1="248.03" y1="106.94" x2="358.34" y2="106.94" stroke="#7a7a7a" stroke-width="1"/>
<line x1="248.53" y1="30.77" x2="248.53" y2="107.44" stroke="#505050" stroke-width="1"/>
<line x1="246.93" y1="106.94" x2="248.53" y2="106.94" stroke="#111" stroke-width="1"/>
<text x="243.40" y="109.79" font-size="8.1" font-weight="bold" text-anchor="end" fill="#000" textLength="4.15" lengthAdjust="spacingAndGlyphs">0</text>
<line x1="246.93" y1="91.81" x2="248.53" y2="91.81" stroke="#111" stroke-width="1"/>
<text x="243.40" y="94.66" font-size="8.1" font-weight="bold" text-anchor="end" fill="#000" textLength="4.15" lengthAdjust="spacingAndGlyphs">5</text>
<line x1="246.93" y1="76.67" x2="248.53" y2="76.67" stroke="#111" stroke-width="1"/>
<text x="243.40" y="79.52" font-size="8.1" font-weight="bold" text-anchor="end" fill="#000" textLength="8.3" lengthAdjust="spacingAndGlyphs">10</text>
<line x1="246.93" y1="61.54" x2="248.53" y2="61.54" stroke="#111" stroke-width="1"/>
<text x="243.40" y="64.39" font-size="8.1" font-weight="bold" text-anchor="end" fill="#000" textLength="8.3" lengthAdjust="spacingAndGlyphs">15</text>
<line x1="246.93" y1="46.40" x2="248.53" y2="46.40" stroke="#111" stroke-width="1"/>
<text x="243.40" y="49.25" font-size="8.1" font-weight="bold" text-anchor="end" fill="#000" textLength="8.3" lengthAdjust="spacingAndGlyphs">20</text>
<line x1="246.93" y1="31.27" x2="248.53" y2="31.27" stroke="#111" stroke-width="1"/>
<text x="243.40" y="34.12" font-size="8.1" font-weight="bold" text-anchor="end" fill="#000" textLength="8.3" lengthAdjust="spacingAndGlyphs">25</text>
<line x1="248.53" y1="106.94" x2="248.53" y2="108.53999999999999" stroke="#111" stroke-width="1"/>
<text x="248.53" y="118.84" font-size="8.1" font-weight="bold" text-anchor="middle" fill="#000" textLength="4.1" lengthAdjust="spacingAndGlyphs">0</text>
<line x1="266.75" y1="106.94" x2="266.75" y2="108.53999999999999" stroke="#111" stroke-width="1"/>
<text x="266.75" y="118.84" font-size="8.1" font-weight="bold" text-anchor="middle" fill="#000" textLength="4.1" lengthAdjust="spacingAndGlyphs">5</text>
<line x1="284.97" y1="106.94" x2="284.97" y2="108.53999999999999" stroke="#111" stroke-width="1"/>
<text x="284.97" y="118.84" font-size="8.1" font-weight="bold" text-anchor="middle" fill="#000" textLength="8.2" lengthAdjust="spacingAndGlyphs">10</text>
<line x1="303.19" y1="106.94" x2="303.19" y2="108.53999999999999" stroke="#111" stroke-width="1"/>
<text x="303.19" y="118.84" font-size="8.1" font-weight="bold" text-anchor="middle" fill="#000" textLength="8.2" lengthAdjust="spacingAndGlyphs">15</text>
<line x1="321.40" y1="106.94" x2="321.40" y2="108.53999999999999" stroke="#111" stroke-width="1"/>
<text x="321.40" y="118.84" font-size="8.1" font-weight="bold" text-anchor="middle" fill="#000" textLength="8.2" lengthAdjust="spacingAndGlyphs">20</text>
<line x1="339.62" y1="106.94" x2="339.62" y2="108.53999999999999" stroke="#111" stroke-width="1"/>
<text x="339.62" y="118.84" font-size="8.1" font-weight="bold" text-anchor="middle" fill="#000" textLength="8.2" lengthAdjust="spacingAndGlyphs">25</text>
<line x1="357.84" y1="106.94" x2="357.84" y2="108.53999999999999" stroke="#111" stroke-width="1"/>
<text x="357.84" y="118.84" font-size="8.1" font-weight="bold" text-anchor="middle" fill="#000" textLength="8.2" lengthAdjust="spacingAndGlyphs">30</text>
<text x="293.8" y="24.6" font-size="7.6" font-weight="bold" text-anchor="start" fill="#000" textLength="19.3" lengthAdjust="spacingAndGlyphs">Colo-</text>
<text x="268.2" y="130.4" font-size="8.0" font-weight="bold" text-anchor="start" fill="#000" textLength="69.9" lengthAdjust="spacingAndGlyphs">incubation time [h]</text>
<text x="0" y="0" font-size="8" font-weight="bold" text-anchor="middle" textLength="51.400000000000006" lengthAdjust="spacingAndGlyphs" transform="translate(230.2,69.0) rotate(-90)">Hsp70 [ng/ml]</text>
<polyline points="255.82,103.01 263.10,93.32 277.68,86.06 335.98,74.55" fill="none" stroke="#000" stroke-width="1.0"/>
<polyline points="255.82,92.11 263.10,85.15 277.68,79.85 335.98,64.87" fill="none" stroke="#000" stroke-width="1.0"/>
<polyline points="255.82,97.86 263.10,79.09 277.68,69.41 335.98,40.65" fill="none" stroke="#000" stroke-width="1.0"/>
<polyline points="255.82,102.10 263.10,86.06 277.68,67.59 335.98,50.94" fill="none" stroke="#000" stroke-width="1.0"/>
<circle cx="255.82" cy="103.01" r="2.0" fill="#000"/>
<circle cx="263.10" cy="93.32" r="2.0" fill="#000"/>
<circle cx="277.68" cy="86.06" r="2.0" fill="#000"/>
<circle cx="335.98" cy="74.55" r="2.0" fill="#000"/>
<circle cx="255.82" cy="92.11" r="1.55" fill="#fff" stroke="#000" stroke-width="1.0"/>
<circle cx="263.10" cy="85.15" r="1.55" fill="#fff" stroke="#000" stroke-width="1.0"/>
<circle cx="277.68" cy="79.85" r="1.55" fill="#fff" stroke="#000" stroke-width="1.0"/>
<circle cx="335.98" cy="64.87" r="1.55" fill="#fff" stroke="#000" stroke-width="1.0"/>
<path d="M253.52,96.06 L258.12,96.06 L255.82,99.66 Z" fill="#000"/>
<path d="M260.80,77.29 L265.40,77.29 L263.10,80.89 Z" fill="#000"/>
<path d="M275.38,67.61 L279.98,67.61 L277.68,71.21 Z" fill="#000"/>
<path d="M333.68,38.85 L338.28,38.85 L335.98,42.45 Z" fill="#000"/>
<path d="M253.82,100.65 L257.82,100.65 L255.82,103.85 Z" fill="#fff" stroke="#000" stroke-width="0.9" stroke-linejoin="round"/>
<path d="M261.10,84.61 L265.10,84.61 L263.10,87.81 Z" fill="#fff" stroke="#000" stroke-width="0.9" stroke-linejoin="round"/>
<path d="M275.68,66.14 L279.68,66.14 L277.68,69.34 Z" fill="#fff" stroke="#000" stroke-width="0.9" stroke-linejoin="round"/>
<path d="M333.98,49.49 L337.98,49.49 L335.98,52.69 Z" fill="#fff" stroke="#000" stroke-width="0.9" stroke-linejoin="round"/>
<rect x="250.3" y="31.2" width="46.30000000000001" height="27.900000000000002" fill="#fff" stroke="#000" stroke-width="1.1"/>
<line x1="252.5" y1="36.80" x2="263.90000000000003" y2="36.80" stroke="#000" stroke-width="1.3"/>
<circle cx="258.20" cy="36.80" r="2.2" fill="#000"/>
<text x="266.60" y="38.60" font-size="4.9" font-weight="bold" text-anchor="start" fill="#000" textLength="16.0" lengthAdjust="spacingAndGlyphs" style="stroke-width:0.32px">control</text>
<line x1="252.5" y1="42.65" x2="263.90000000000003" y2="42.65" stroke="#000" stroke-width="1.3"/>
<circle cx="258.20" cy="42.65" r="1.7500000000000002" fill="#fff" stroke="#000" stroke-width="1.0"/>
<text x="266.60" y="44.45" font-size="4.9" font-weight="bold" text-anchor="start" fill="#000" textLength="27.5" lengthAdjust="spacingAndGlyphs" style="stroke-width:0.32px">Triton X-100</text>
<line x1="252.5" y1="48.50" x2="263.90000000000003" y2="48.50" stroke="#000" stroke-width="1.3"/>
<path d="M255.70,46.52 L260.70,46.52 L258.20,50.48 Z" fill="#000"/>
<text x="266.60" y="50.30" font-size="4.9" font-weight="bold" text-anchor="start" fill="#000" textLength="23.5" lengthAdjust="spacingAndGlyphs" style="stroke-width:0.32px">Lubrol WX</text>
<line x1="252.5" y1="54.35" x2="263.90000000000003" y2="54.35" stroke="#000" stroke-width="1.3"/>
<path d="M256.00,52.72 L260.40,52.72 L258.20,56.27 Z" fill="#fff" stroke="#000" stroke-width="0.9" stroke-linejoin="round"/>
<text x="266.60" y="56.15" font-size="4.9" font-weight="bold" text-anchor="start" fill="#000" textLength="14.0" lengthAdjust="spacingAndGlyphs" style="stroke-width:0.32px">Brij 98</text>
<path d="M393.53,31.78 H502.8 V107.45" fill="none" stroke="#707070" stroke-width="1"/>
<line x1="393.03" y1="107.45" x2="503.3" y2="107.45" stroke="#7a7a7a" stroke-width="1"/>
<line x1="393.53" y1="31.28" x2="393.53" y2="107.95" stroke="#505050" stroke-width="1"/>
<line x1="391.92999999999995" y1="107.45" x2="393.53" y2="107.45" stroke="#111" stroke-width="1"/>
<text x="388.00" y="110.30" font-size="8.1" font-weight="bold" text-anchor="end" fill="#000" textLength="4.15" lengthAdjust="spacingAndGlyphs">0</text>
<line x1="391.92999999999995" y1="92.32" x2="393.53" y2="92.32" stroke="#111" stroke-width="1"/>
<text x="388.00" y="95.17" font-size="8.1" font-weight="bold" text-anchor="end" fill="#000" textLength="4.15" lengthAdjust="spacingAndGlyphs">5</text>
<line x1="391.92999999999995" y1="77.18" x2="393.53" y2="77.18" stroke="#111" stroke-width="1"/>
<text x="388.00" y="80.03" font-size="8.1" font-weight="bold" text-anchor="end" fill="#000" textLength="8.3" lengthAdjust="spacingAndGlyphs">10</text>
<line x1="391.92999999999995" y1="62.05" x2="393.53" y2="62.05" stroke="#111" stroke-width="1"/>
<text x="388.00" y="64.90" font-size="8.1" font-weight="bold" text-anchor="end" fill="#000" textLength="8.3" lengthAdjust="spacingAndGlyphs">15</text>
<line x1="391.92999999999995" y1="46.91" x2="393.53" y2="46.91" stroke="#111" stroke-width="1"/>
<text x="388.00" y="49.76" font-size="8.1" font-weight="bold" text-anchor="end" fill="#000" textLength="8.3" lengthAdjust="spacingAndGlyphs">20</text>
<line x1="391.92999999999995" y1="31.78" x2="393.53" y2="31.78" stroke="#111" stroke-width="1"/>
<text x="388.00" y="34.63" font-size="8.1" font-weight="bold" text-anchor="end" fill="#000" textLength="8.3" lengthAdjust="spacingAndGlyphs">25</text>
<line x1="393.53" y1="107.45" x2="393.53" y2="109.05" stroke="#111" stroke-width="1"/>
<text x="393.53" y="119.35" font-size="8.1" font-weight="bold" text-anchor="middle" fill="#000" textLength="4.1" lengthAdjust="spacingAndGlyphs">0</text>
<line x1="411.74" y1="107.45" x2="411.74" y2="109.05" stroke="#111" stroke-width="1"/>
<text x="411.74" y="119.35" font-size="8.1" font-weight="bold" text-anchor="middle" fill="#000" textLength="4.1" lengthAdjust="spacingAndGlyphs">5</text>
<line x1="429.95" y1="107.45" x2="429.95" y2="109.05" stroke="#111" stroke-width="1"/>
<text x="429.95" y="119.35" font-size="8.1" font-weight="bold" text-anchor="middle" fill="#000" textLength="8.2" lengthAdjust="spacingAndGlyphs">10</text>
<line x1="448.16" y1="107.45" x2="448.16" y2="109.05" stroke="#111" stroke-width="1"/>
<text x="448.16" y="119.35" font-size="8.1" font-weight="bold" text-anchor="middle" fill="#000" textLength="8.2" lengthAdjust="spacingAndGlyphs">15</text>
<line x1="466.38" y1="107.45" x2="466.38" y2="109.05" stroke="#111" stroke-width="1"/>
<text x="466.38" y="119.35" font-size="8.1" font-weight="bold" text-anchor="middle" fill="#000" textLength="8.2" lengthAdjust="spacingAndGlyphs">20</text>
<line x1="484.59" y1="107.45" x2="484.59" y2="109.05" stroke="#111" stroke-width="1"/>
<text x="484.59" y="119.35" font-size="8.1" font-weight="bold" text-anchor="middle" fill="#000" textLength="8.2" lengthAdjust="spacingAndGlyphs">25</text>
<line x1="502.80" y1="107.45" x2="502.80" y2="109.05" stroke="#111" stroke-width="1"/>
<text x="502.80" y="119.35" font-size="8.1" font-weight="bold" text-anchor="middle" fill="#000" textLength="8.2" lengthAdjust="spacingAndGlyphs">30</text>
<text x="436.9" y="26.2" font-size="7.6" font-weight="bold" text-anchor="start" fill="#000" textLength="21.7" lengthAdjust="spacingAndGlyphs">Colo+</text>
<text x="413" y="131.2" font-size="8.0" font-weight="bold" text-anchor="start" fill="#000" textLength="70.0" lengthAdjust="spacingAndGlyphs">incubation time [h]</text>
<text x="0" y="0" font-size="8" font-weight="bold" text-anchor="middle" textLength="51.400000000000006" lengthAdjust="spacingAndGlyphs" transform="translate(375.0,69.0) rotate(-90)">Hsp70 [ng/ml]</text>
<polyline points="400.81,99.28 408.10,89.29 422.67,82.63 480.95,70.83" fill="none" stroke="#000" stroke-width="1.0"/>
<polyline points="400.81,88.99 408.10,83.84 422.67,73.85 480.95,66.59" fill="none" stroke="#000" stroke-width="1.0"/>
<polyline points="400.81,89.59 408.10,74.76 422.67,64.17 480.95,42.98" fill="none" stroke="#000" stroke-width="1.0"/>
<polyline points="400.81,91.11 408.10,74.16 422.67,65.38 480.95,34.20" fill="none" stroke="#000" stroke-width="1.0"/>
<circle cx="400.81" cy="99.28" r="2.0" fill="#000"/>
<circle cx="408.10" cy="89.29" r="2.0" fill="#000"/>
<circle cx="422.67" cy="82.63" r="2.0" fill="#000"/>
<circle cx="480.95" cy="70.83" r="2.0" fill="#000"/>
<circle cx="400.81" cy="88.99" r="1.55" fill="#fff" stroke="#000" stroke-width="1.0"/>
<circle cx="408.10" cy="83.84" r="1.55" fill="#fff" stroke="#000" stroke-width="1.0"/>
<circle cx="422.67" cy="73.85" r="1.55" fill="#fff" stroke="#000" stroke-width="1.0"/>
<circle cx="480.95" cy="66.59" r="1.55" fill="#fff" stroke="#000" stroke-width="1.0"/>
<path d="M398.51,87.79 L403.11,87.79 L400.81,91.39 Z" fill="#000"/>
<path d="M405.80,72.96 L410.40,72.96 L408.10,76.56 Z" fill="#000"/>
<path d="M420.37,62.37 L424.97,62.37 L422.67,65.97 Z" fill="#000"/>
<path d="M478.65,41.18 L483.25,41.18 L480.95,44.78 Z" fill="#000"/>
<path d="M398.81,89.66 L402.81,89.66 L400.81,92.86 Z" fill="#fff" stroke="#000" stroke-width="0.9" stroke-linejoin="round"/>
<path d="M406.10,72.71 L410.10,72.71 L408.10,75.91 Z" fill="#fff" stroke="#000" stroke-width="0.9" stroke-linejoin="round"/>
<path d="M420.67,63.93 L424.67,63.93 L422.67,67.13 Z" fill="#fff" stroke="#000" stroke-width="0.9" stroke-linejoin="round"/>
<path d="M478.95,32.75 L482.95,32.75 L480.95,35.95 Z" fill="#fff" stroke="#000" stroke-width="0.9" stroke-linejoin="round"/>
<rect x="395.0" y="31.9" width="47.19999999999999" height="27.700000000000003" fill="#fff" stroke="#000" stroke-width="1.1"/>
<line x1="397.2" y1="37.50" x2="408.6" y2="37.50" stroke="#000" stroke-width="1.3"/>
<circle cx="402.90" cy="37.50" r="2.2" fill="#000"/>
<text x="411.30" y="39.30" font-size="4.9" font-weight="bold" text-anchor="start" fill="#000" textLength="16.0" lengthAdjust="spacingAndGlyphs" style="stroke-width:0.32px">control</text>
<line x1="397.2" y1="43.35" x2="408.6" y2="43.35" stroke="#000" stroke-width="1.3"/>
<circle cx="402.90" cy="43.35" r="1.7500000000000002" fill="#fff" stroke="#000" stroke-width="1.0"/>
<text x="411.30" y="45.15" font-size="4.9" font-weight="bold" text-anchor="start" fill="#000" textLength="27.5" lengthAdjust="spacingAndGlyphs" style="stroke-width:0.32px">Triton X-100</text>
<line x1="397.2" y1="49.20" x2="408.6" y2="49.20" stroke="#000" stroke-width="1.3"/>
<path d="M400.40,47.22 L405.40,47.22 L402.90,51.18 Z" fill="#000"/>
<text x="411.30" y="51.00" font-size="4.9" font-weight="bold" text-anchor="start" fill="#000" textLength="23.5" lengthAdjust="spacingAndGlyphs" style="stroke-width:0.32px">Lubrol WX</text>
<line x1="397.2" y1="55.05" x2="408.6" y2="55.05" stroke="#000" stroke-width="1.3"/>
<path d="M400.70,53.42 L405.10,53.42 L402.90,56.97 Z" fill="#fff" stroke="#000" stroke-width="0.9" stroke-linejoin="round"/>
<text x="411.30" y="56.85" font-size="4.9" font-weight="bold" text-anchor="start" fill="#000" textLength="14.0" lengthAdjust="spacingAndGlyphs" style="stroke-width:0.32px">Brij 98</text>
<path d="M249.3,155.4 H358.55 V231.94" fill="none" stroke="#707070" stroke-width="1"/>
<line x1="248.8" y1="231.94" x2="359.05" y2="231.94" stroke="#7a7a7a" stroke-width="1"/>
<line x1="249.3" y1="154.9" x2="249.3" y2="232.44" stroke="#505050" stroke-width="1"/>
<line x1="247.70000000000002" y1="231.94" x2="249.3" y2="231.94" stroke="#111" stroke-width="1"/>
<text x="243.80" y="234.79" font-size="8.1" font-weight="bold" text-anchor="end" fill="#000" textLength="4.15" lengthAdjust="spacingAndGlyphs">0</text>
<line x1="247.70000000000002" y1="222.37" x2="249.3" y2="222.37" stroke="#111" stroke-width="1"/>
<text x="243.80" y="225.22" font-size="8.1" font-weight="bold" text-anchor="end" fill="#000" textLength="4.15" lengthAdjust="spacingAndGlyphs">2</text>
<line x1="247.70000000000002" y1="212.81" x2="249.3" y2="212.81" stroke="#111" stroke-width="1"/>
<text x="243.80" y="215.66" font-size="8.1" font-weight="bold" text-anchor="end" fill="#000" textLength="4.15" lengthAdjust="spacingAndGlyphs">4</text>
<line x1="247.70000000000002" y1="203.24" x2="249.3" y2="203.24" stroke="#111" stroke-width="1"/>
<text x="243.80" y="206.09" font-size="8.1" font-weight="bold" text-anchor="end" fill="#000" textLength="4.15" lengthAdjust="spacingAndGlyphs">6</text>
<line x1="247.70000000000002" y1="193.67" x2="249.3" y2="193.67" stroke="#111" stroke-width="1"/>
<text x="243.80" y="196.52" font-size="8.1" font-weight="bold" text-anchor="end" fill="#000" textLength="4.15" lengthAdjust="spacingAndGlyphs">8</text>
<line x1="247.70000000000002" y1="184.10" x2="249.3" y2="184.10" stroke="#111" stroke-width="1"/>
<text x="243.80" y="186.95" font-size="8.1" font-weight="bold" text-anchor="end" fill="#000" textLength="8.3" lengthAdjust="spacingAndGlyphs">10</text>
<line x1="247.70000000000002" y1="174.53" x2="249.3" y2="174.53" stroke="#111" stroke-width="1"/>
<text x="243.80" y="177.38" font-size="8.1" font-weight="bold" text-anchor="end" fill="#000" textLength="8.3" lengthAdjust="spacingAndGlyphs">12</text>
<line x1="247.70000000000002" y1="164.97" x2="249.3" y2="164.97" stroke="#111" stroke-width="1"/>
<text x="243.80" y="167.82" font-size="8.1" font-weight="bold" text-anchor="end" fill="#000" textLength="8.3" lengthAdjust="spacingAndGlyphs">14</text>
<line x1="247.70000000000002" y1="155.40" x2="249.3" y2="155.40" stroke="#111" stroke-width="1"/>
<text x="243.80" y="158.25" font-size="8.1" font-weight="bold" text-anchor="end" fill="#000" textLength="8.3" lengthAdjust="spacingAndGlyphs">16</text>
<line x1="249.30" y1="231.94" x2="249.30" y2="233.54" stroke="#111" stroke-width="1"/>
<text x="249.30" y="243.84" font-size="8.1" font-weight="bold" text-anchor="middle" fill="#000" textLength="4.1" lengthAdjust="spacingAndGlyphs">0</text>
<line x1="267.51" y1="231.94" x2="267.51" y2="233.54" stroke="#111" stroke-width="1"/>
<text x="267.51" y="243.84" font-size="8.1" font-weight="bold" text-anchor="middle" fill="#000" textLength="4.1" lengthAdjust="spacingAndGlyphs">5</text>
<line x1="285.72" y1="231.94" x2="285.72" y2="233.54" stroke="#111" stroke-width="1"/>
<text x="285.72" y="243.84" font-size="8.1" font-weight="bold" text-anchor="middle" fill="#000" textLength="8.2" lengthAdjust="spacingAndGlyphs">10</text>
<line x1="303.93" y1="231.94" x2="303.93" y2="233.54" stroke="#111" stroke-width="1"/>
<text x="303.93" y="243.84" font-size="8.1" font-weight="bold" text-anchor="middle" fill="#000" textLength="8.2" lengthAdjust="spacingAndGlyphs">15</text>
<line x1="322.13" y1="231.94" x2="322.13" y2="233.54" stroke="#111" stroke-width="1"/>
<text x="322.13" y="243.84" font-size="8.1" font-weight="bold" text-anchor="middle" fill="#000" textLength="8.2" lengthAdjust="spacingAndGlyphs">20</text>
<line x1="340.34" y1="231.94" x2="340.34" y2="233.54" stroke="#111" stroke-width="1"/>
<text x="340.34" y="243.84" font-size="8.1" font-weight="bold" text-anchor="middle" fill="#000" textLength="8.2" lengthAdjust="spacingAndGlyphs">25</text>
<line x1="358.55" y1="231.94" x2="358.55" y2="233.54" stroke="#111" stroke-width="1"/>
<text x="358.55" y="243.84" font-size="8.1" font-weight="bold" text-anchor="middle" fill="#000" textLength="8.2" lengthAdjust="spacingAndGlyphs">30</text>
<text x="297.3" y="149.6" font-size="7.6" font-weight="bold" text-anchor="start" fill="#000" textLength="13.6" lengthAdjust="spacingAndGlyphs">CX-</text>
<text x="268.5" y="255.1" font-size="8.0" font-weight="bold" text-anchor="start" fill="#000" textLength="70.0" lengthAdjust="spacingAndGlyphs">incubation time [h]</text>
<text x="0" y="0" font-size="8" font-weight="bold" text-anchor="middle" textLength="51.69999999999999" lengthAdjust="spacingAndGlyphs" transform="translate(230.5,193.15) rotate(-90)">Hsp70 [ng/ml]</text>
<polyline points="256.58,228.21 263.87,225.48 278.43,217.11 336.70,209.93" fill="none" stroke="#000" stroke-width="1.0"/>
<polyline points="256.58,221.42 263.87,205.63 278.43,206.59 336.70,197.50" fill="none" stroke="#000" stroke-width="1.0"/>
<polyline points="256.58,211.37 263.87,208.98 278.43,188.41 336.70,181.71" fill="none" stroke="#000" stroke-width="1.0"/>
<polyline points="256.58,215.68 263.87,200.85 278.43,191.28 336.70,175.49" fill="none" stroke="#000" stroke-width="1.0"/>
<circle cx="256.58" cy="228.21" r="2.0" fill="#000"/>
<circle cx="263.87" cy="225.48" r="2.0" fill="#000"/>
<circle cx="278.43" cy="217.11" r="2.0" fill="#000"/>
<circle cx="336.70" cy="209.93" r="2.0" fill="#000"/>
<circle cx="256.58" cy="221.42" r="1.55" fill="#fff" stroke="#000" stroke-width="1.0"/>
<circle cx="263.87" cy="205.63" r="1.55" fill="#fff" stroke="#000" stroke-width="1.0"/>
<circle cx="278.43" cy="206.59" r="1.55" fill="#fff" stroke="#000" stroke-width="1.0"/>
<circle cx="336.70" cy="197.50" r="1.55" fill="#fff" stroke="#000" stroke-width="1.0"/>
<path d="M254.28,209.57 L258.88,209.57 L256.58,213.17 Z" fill="#000"/>
<path d="M261.57,207.18 L266.17,207.18 L263.87,210.78 Z" fill="#000"/>
<path d="M276.13,186.61 L280.73,186.61 L278.43,190.21 Z" fill="#000"/>
<path d="M334.40,179.91 L339.00,179.91 L336.70,183.51 Z" fill="#000"/>
<path d="M254.58,214.23 L258.58,214.23 L256.58,217.43 Z" fill="#fff" stroke="#000" stroke-width="0.9" stroke-linejoin="round"/>
<path d="M261.87,199.40 L265.87,199.40 L263.87,202.60 Z" fill="#fff" stroke="#000" stroke-width="0.9" stroke-linejoin="round"/>
<path d="M276.43,189.83 L280.43,189.83 L278.43,193.03 Z" fill="#fff" stroke="#000" stroke-width="0.9" stroke-linejoin="round"/>
<path d="M334.70,174.04 L338.70,174.04 L336.70,177.24 Z" fill="#fff" stroke="#000" stroke-width="0.9" stroke-linejoin="round"/>
<rect x="250.6" y="155.4" width="46.29999999999998" height="28.900000000000006" fill="#fff" stroke="#000" stroke-width="1.1"/>
<line x1="252.79999999999998" y1="161.00" x2="264.2" y2="161.00" stroke="#000" stroke-width="1.3"/>
<circle cx="258.50" cy="161.00" r="2.2" fill="#000"/>
<text x="266.90" y="162.80" font-size="4.9" font-weight="bold" text-anchor="start" fill="#000" textLength="16.0" lengthAdjust="spacingAndGlyphs" style="stroke-width:0.32px">control</text>
<line x1="252.79999999999998" y1="166.85" x2="264.2" y2="166.85" stroke="#000" stroke-width="1.3"/>
<circle cx="258.50" cy="166.85" r="1.7500000000000002" fill="#fff" stroke="#000" stroke-width="1.0"/>
<text x="266.90" y="168.65" font-size="4.9" font-weight="bold" text-anchor="start" fill="#000" textLength="27.5" lengthAdjust="spacingAndGlyphs" style="stroke-width:0.32px">Triton X-100</text>
<line x1="252.79999999999998" y1="172.70" x2="264.2" y2="172.70" stroke="#000" stroke-width="1.3"/>
<path d="M256.00,170.72 L261.00,170.72 L258.50,174.68 Z" fill="#000"/>
<text x="266.90" y="174.50" font-size="4.9" font-weight="bold" text-anchor="start" fill="#000" textLength="23.5" lengthAdjust="spacingAndGlyphs" style="stroke-width:0.32px">Lubrol WX</text>
<line x1="252.79999999999998" y1="178.55" x2="264.2" y2="178.55" stroke="#000" stroke-width="1.3"/>
<path d="M256.30,176.93 L260.70,176.93 L258.50,180.48 Z" fill="#fff" stroke="#000" stroke-width="0.9" stroke-linejoin="round"/>
<text x="266.90" y="180.35" font-size="4.9" font-weight="bold" text-anchor="start" fill="#000" textLength="14.0" lengthAdjust="spacingAndGlyphs" style="stroke-width:0.32px">Brij 98</text>
<path d="M393.45,155.45 H502.8 V231.9" fill="none" stroke="#707070" stroke-width="1"/>
<line x1="392.95" y1="231.9" x2="503.3" y2="231.9" stroke="#7a7a7a" stroke-width="1"/>
<line x1="393.45" y1="154.95" x2="393.45" y2="232.4" stroke="#505050" stroke-width="1"/>
<line x1="391.84999999999997" y1="231.90" x2="393.45" y2="231.90" stroke="#111" stroke-width="1"/>
<text x="388.50" y="234.75" font-size="8.1" font-weight="bold" text-anchor="end" fill="#000" textLength="4.15" lengthAdjust="spacingAndGlyphs">0</text>
<line x1="391.84999999999997" y1="222.34" x2="393.45" y2="222.34" stroke="#111" stroke-width="1"/>
<text x="388.50" y="225.19" font-size="8.1" font-weight="bold" text-anchor="end" fill="#000" textLength="4.15" lengthAdjust="spacingAndGlyphs">2</text>
<line x1="391.84999999999997" y1="212.79" x2="393.45" y2="212.79" stroke="#111" stroke-width="1"/>
<text x="388.50" y="215.64" font-size="8.1" font-weight="bold" text-anchor="end" fill="#000" textLength="4.15" lengthAdjust="spacingAndGlyphs">4</text>
<line x1="391.84999999999997" y1="203.23" x2="393.45" y2="203.23" stroke="#111" stroke-width="1"/>
<text x="388.50" y="206.08" font-size="8.1" font-weight="bold" text-anchor="end" fill="#000" textLength="4.15" lengthAdjust="spacingAndGlyphs">6</text>
<line x1="391.84999999999997" y1="193.68" x2="393.45" y2="193.68" stroke="#111" stroke-width="1"/>
<text x="388.50" y="196.53" font-size="8.1" font-weight="bold" text-anchor="end" fill="#000" textLength="4.15" lengthAdjust="spacingAndGlyphs">8</text>
<line x1="391.84999999999997" y1="184.12" x2="393.45" y2="184.12" stroke="#111" stroke-width="1"/>
<text x="388.50" y="186.97" font-size="8.1" font-weight="bold" text-anchor="end" fill="#000" textLength="8.3" lengthAdjust="spacingAndGlyphs">10</text>
<line x1="391.84999999999997" y1="174.56" x2="393.45" y2="174.56" stroke="#111" stroke-width="1"/>
<text x="388.50" y="177.41" font-size="8.1" font-weight="bold" text-anchor="end" fill="#000" textLength="8.3" lengthAdjust="spacingAndGlyphs">12</text>
<line x1="391.84999999999997" y1="165.01" x2="393.45" y2="165.01" stroke="#111" stroke-width="1"/>
<text x="388.50" y="167.86" font-size="8.1" font-weight="bold" text-anchor="end" fill="#000" textLength="8.3" lengthAdjust="spacingAndGlyphs">14</text>
<line x1="391.84999999999997" y1="155.45" x2="393.45" y2="155.45" stroke="#111" stroke-width="1"/>
<text x="388.50" y="158.30" font-size="8.1" font-weight="bold" text-anchor="end" fill="#000" textLength="8.3" lengthAdjust="spacingAndGlyphs">16</text>
<line x1="393.45" y1="231.9" x2="393.45" y2="233.5" stroke="#111" stroke-width="1"/>
<text x="393.45" y="243.80" font-size="8.1" font-weight="bold" text-anchor="middle" fill="#000" textLength="4.1" lengthAdjust="spacingAndGlyphs">0</text>
<line x1="411.68" y1="231.9" x2="411.68" y2="233.5" stroke="#111" stroke-width="1"/>
<text x="411.68" y="243.80" font-size="8.1" font-weight="bold" text-anchor="middle" fill="#000" textLength="4.1" lengthAdjust="spacingAndGlyphs">5</text>
<line x1="429.90" y1="231.9" x2="429.90" y2="233.5" stroke="#111" stroke-width="1"/>
<text x="429.90" y="243.80" font-size="8.1" font-weight="bold" text-anchor="middle" fill="#000" textLength="8.2" lengthAdjust="spacingAndGlyphs">10</text>
<line x1="448.12" y1="231.9" x2="448.12" y2="233.5" stroke="#111" stroke-width="1"/>
<text x="448.12" y="243.80" font-size="8.1" font-weight="bold" text-anchor="middle" fill="#000" textLength="8.2" lengthAdjust="spacingAndGlyphs">15</text>
<line x1="466.35" y1="231.9" x2="466.35" y2="233.5" stroke="#111" stroke-width="1"/>
<text x="466.35" y="243.80" font-size="8.1" font-weight="bold" text-anchor="middle" fill="#000" textLength="8.2" lengthAdjust="spacingAndGlyphs">20</text>
<line x1="484.57" y1="231.9" x2="484.57" y2="233.5" stroke="#111" stroke-width="1"/>
<text x="484.57" y="243.80" font-size="8.1" font-weight="bold" text-anchor="middle" fill="#000" textLength="8.2" lengthAdjust="spacingAndGlyphs">25</text>
<line x1="502.80" y1="231.9" x2="502.80" y2="233.5" stroke="#111" stroke-width="1"/>
<text x="502.80" y="243.80" font-size="8.1" font-weight="bold" text-anchor="middle" fill="#000" textLength="8.2" lengthAdjust="spacingAndGlyphs">30</text>
<text x="440.8" y="149.5" font-size="7.6" font-weight="bold" text-anchor="start" fill="#000" textLength="15.0" lengthAdjust="spacingAndGlyphs">CX+</text>
<text x="413" y="255.1" font-size="8.0" font-weight="bold" text-anchor="start" fill="#000" textLength="70.0" lengthAdjust="spacingAndGlyphs">incubation time [h]</text>
<text x="0" y="0" font-size="8" font-weight="bold" text-anchor="middle" textLength="51.30000000000001" lengthAdjust="spacingAndGlyphs" transform="translate(375.3,193.35) rotate(-90)">Hsp70 [ng/ml]</text>
<polyline points="400.74,223.78 408.03,219.72 422.61,218.04 480.93,207.05" fill="none" stroke="#000" stroke-width="1.0"/>
<polyline points="400.74,221.39 408.03,210.88 422.61,206.58 480.93,200.36" fill="none" stroke="#000" stroke-width="1.0"/>
<polyline points="400.74,210.40 408.03,206.58 422.61,201.32 480.93,183.64" fill="none" stroke="#000" stroke-width="1.0"/>
<polyline points="400.74,215.65 408.03,204.66 422.61,186.03 480.93,176.47" fill="none" stroke="#000" stroke-width="1.0"/>
<circle cx="400.74" cy="223.78" r="2.0" fill="#000"/>
<circle cx="408.03" cy="219.72" r="2.0" fill="#000"/>
<circle cx="422.61" cy="218.04" r="2.0" fill="#000"/>
<circle cx="480.93" cy="207.05" r="2.0" fill="#000"/>
<circle cx="400.74" cy="221.39" r="1.55" fill="#fff" stroke="#000" stroke-width="1.0"/>
<circle cx="408.03" cy="210.88" r="1.55" fill="#fff" stroke="#000" stroke-width="1.0"/>
<circle cx="422.61" cy="206.58" r="1.55" fill="#fff" stroke="#000" stroke-width="1.0"/>
<circle cx="480.93" cy="200.36" r="1.55" fill="#fff" stroke="#000" stroke-width="1.0"/>
<path d="M398.44,208.60 L403.04,208.60 L400.74,212.20 Z" fill="#000"/>
<path d="M405.73,204.78 L410.33,204.78 L408.03,208.38 Z" fill="#000"/>
<path d="M420.31,199.52 L424.91,199.52 L422.61,203.12 Z" fill="#000"/>
<path d="M478.63,181.84 L483.23,181.84 L480.93,185.44 Z" fill="#000"/>
<path d="M398.74,214.20 L402.74,214.20 L400.74,217.40 Z" fill="#fff" stroke="#000" stroke-width="0.9" stroke-linejoin="round"/>
<path d="M406.03,203.21 L410.03,203.21 L408.03,206.41 Z" fill="#fff" stroke="#000" stroke-width="0.9" stroke-linejoin="round"/>
<path d="M420.61,184.58 L424.61,184.58 L422.61,187.78 Z" fill="#fff" stroke="#000" stroke-width="0.9" stroke-linejoin="round"/>
<path d="M478.93,175.02 L482.93,175.02 L480.93,178.22 Z" fill="#fff" stroke="#000" stroke-width="0.9" stroke-linejoin="round"/>
<rect x="395.0" y="155.2" width="46.5" height="29.100000000000023" fill="#fff" stroke="#000" stroke-width="1.1"/>
<line x1="397.2" y1="160.80" x2="408.6" y2="160.80" stroke="#000" stroke-width="1.3"/>
<circle cx="402.90" cy="160.80" r="2.2" fill="#000"/>
<text x="411.30" y="162.60" font-size="4.9" font-weight="bold" text-anchor="start" fill="#000" textLength="16.0" lengthAdjust="spacingAndGlyphs" style="stroke-width:0.32px">control</text>
<line x1="397.2" y1="166.65" x2="408.6" y2="166.65" stroke="#000" stroke-width="1.3"/>
<circle cx="402.90" cy="166.65" r="1.7500000000000002" fill="#fff" stroke="#000" stroke-width="1.0"/>
<text x="411.30" y="168.45" font-size="4.9" font-weight="bold" text-anchor="start" fill="#000" textLength="27.5" lengthAdjust="spacingAndGlyphs" style="stroke-width:0.32px">Triton X-100</text>
<line x1="397.2" y1="172.50" x2="408.6" y2="172.50" stroke="#000" stroke-width="1.3"/>
<path d="M400.40,170.52 L405.40,170.52 L402.90,174.48 Z" fill="#000"/>
<text x="411.30" y="174.30" font-size="4.9" font-weight="bold" text-anchor="start" fill="#000" textLength="23.5" lengthAdjust="spacingAndGlyphs" style="stroke-width:0.32px">Lubrol WX</text>
<line x1="397.2" y1="178.35" x2="408.6" y2="178.35" stroke="#000" stroke-width="1.3"/>
<path d="M400.70,176.72 L405.10,176.72 L402.90,180.27 Z" fill="#fff" stroke="#000" stroke-width="0.9" stroke-linejoin="round"/>
<text x="411.30" y="180.15" font-size="4.9" font-weight="bold" text-anchor="start" fill="#000" textLength="14.0" lengthAdjust="spacingAndGlyphs" style="stroke-width:0.32px">Brij 98</text>
<text x="249.8" y="276.6" font-size="8.6" font-weight="bold" text-anchor="start" fill="#000" textLength="48.9" lengthAdjust="spacingAndGlyphs">Hsp70-ELISA</text>
<rect x="0.5" y="0.5" width="519" height="466" fill="none" stroke="#000" stroke-width="1"/>
</svg>
</div></body></html>
